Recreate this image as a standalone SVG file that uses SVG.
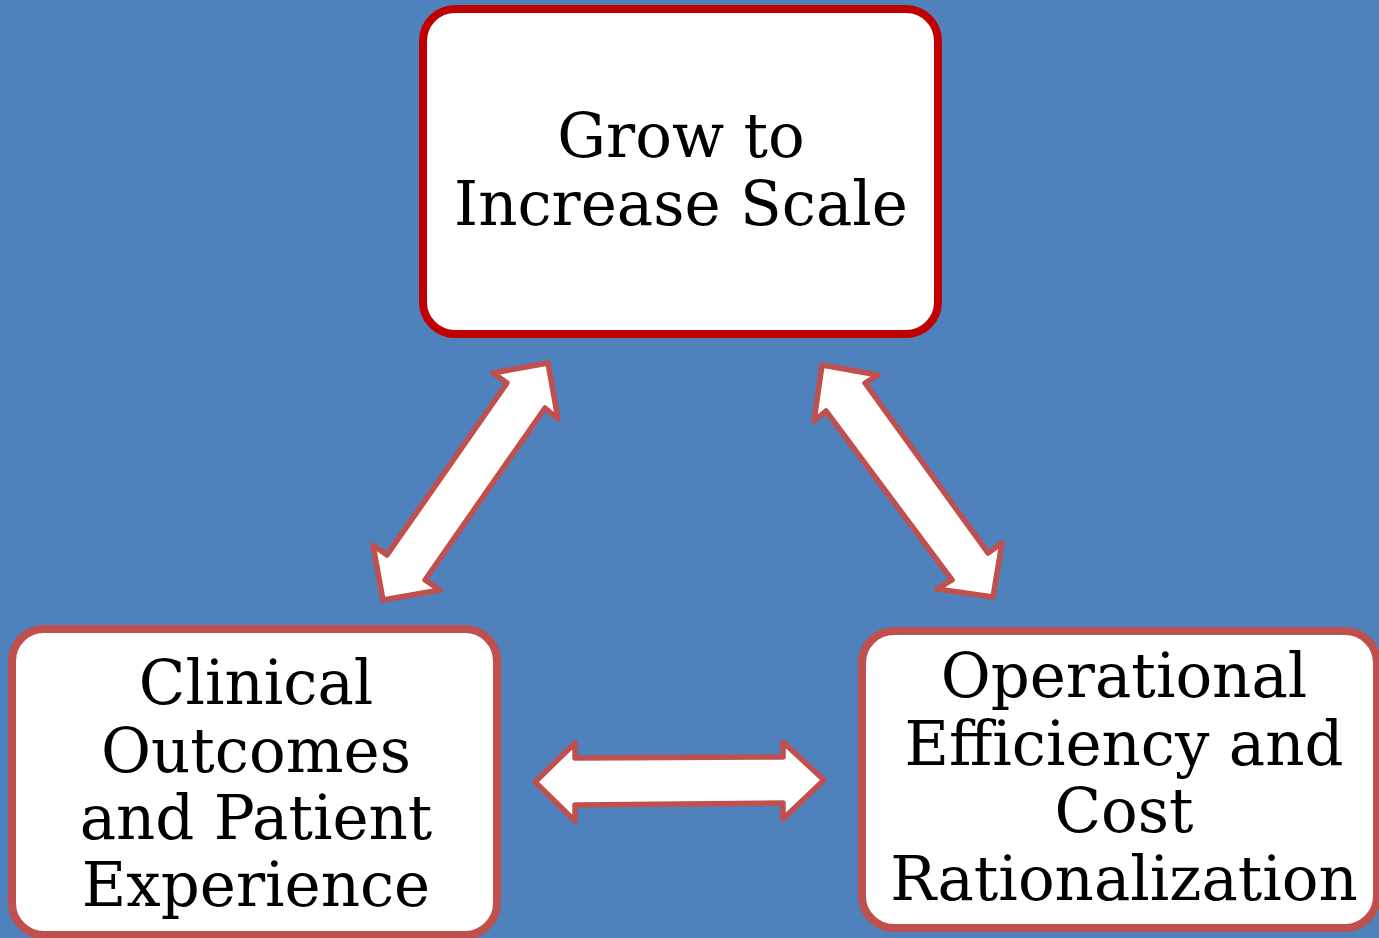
<svg xmlns="http://www.w3.org/2000/svg" width="1379" height="938" viewBox="0 0 1379 938">
<style>
.box{fill:#FFFFFF;stroke:#C0504D;stroke-width:8}
.boxtop{fill:#FFFFFF;stroke:#C00000;stroke-width:8}
.arr{fill:#FFFFFF;stroke:#C0504D;stroke-width:5.5;stroke-linejoin:round}
.t{font-family:"DejaVu Serif","Liberation Serif",serif;font-size:61px;fill:#000000;text-anchor:middle}
</style>
<rect x="0" y="0" width="1379" height="938" fill="#4F81BD"/>
<g id="connectors">
<polygon class="arr" points="548,363 558,419 545,408 425,580 440,590 383,600 373,545 387,555 507,383 493,373"/>
<polygon class="arr" points="822,365 878,375 865,383 988,553 1002,543 993,597 937,589 952,580 826,411 814,421"/>
<polygon class="arr" points="535,782 575,743 575,758 783,757 783,742 824,780 783,819 783,803 575,805 575,821"/>
</g>
<g id="node-top">
<rect class="boxtop" x="423" y="9" width="515" height="325" rx="32" ry="32"/>
<text class="t" x="681" y="157">Grow to</text>
<text class="t" x="681" y="225">Increase Scale</text>
</g>
<g id="node-left">
<rect class="box" x="12" y="629" width="485" height="306" rx="32" ry="32"/>
<text class="t" x="256" y="704">Clinical</text>
<text class="t" x="256" y="772">Outcomes</text>
<text class="t" x="256" y="839">and Patient</text>
<text class="t" x="256" y="906">Experience</text>
</g>
<g id="node-right">
<rect class="box" x="862" y="631" width="515" height="297" rx="32" ry="32"/>
<text class="t" x="1124" y="697">Operational</text>
<text class="t" x="1124" y="765">Efficiency and</text>
<text class="t" x="1124" y="832">Cost</text>
<text class="t" x="1124" y="900">Rationalization</text>
</g>
</svg>
